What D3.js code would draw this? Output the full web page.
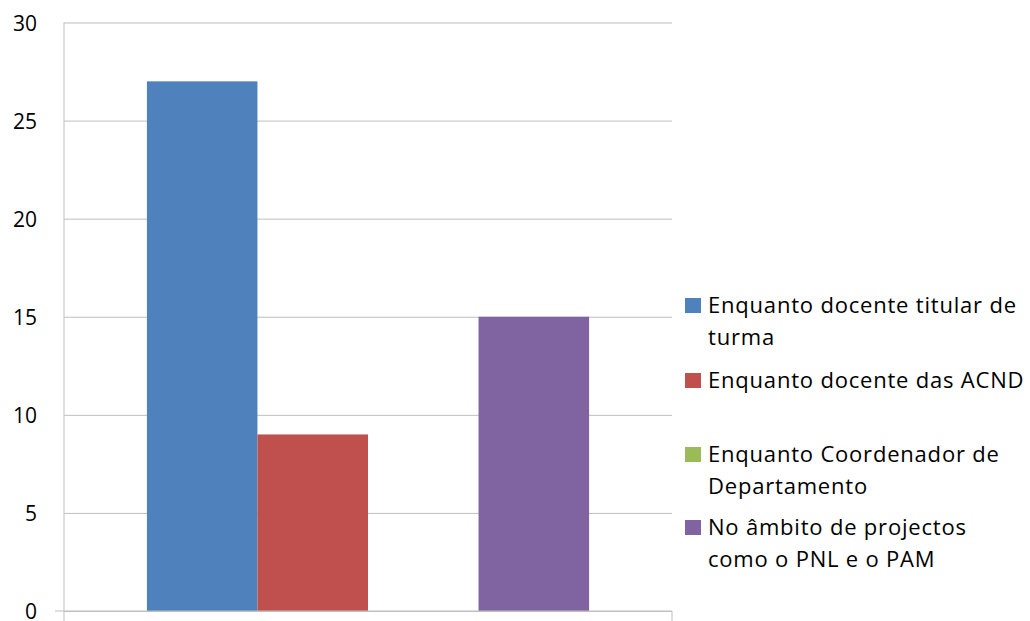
<!DOCTYPE html>
<html>
<head>
<meta charset="utf-8">
<script src="https://cdn.jsdelivr.net/npm/d3@7"></script>
<style>
  body { margin: 0; background: #fff; }
  svg { display: block; font-family: "Open Sans", sans-serif; }
</style>
</head>
<body>
<svg id="chart" width="1030" height="621"></svg>
<script>
var categories = [""];
var seriesNames = [
    ["Enquanto docente titular de", "turma"],
    ["Enquanto docente das ACND"],
    ["Enquanto Coordenador de", "Departamento"],
    ["No âmbito de projectos", "como o PNL e o PAM"]
];
var seriesValues = [27, 9, 0, 15];
var seriesColors = ["#4F81BD", "#C0504D", "#9BBB59", "#8064A2"];
var yTicks = [0, 5, 10, 15, 20, 25, 30];

var svg = d3.select("#chart");
var plotLeft = 64, plotRight = 672, plotTop = 22.5, plotBottom = 611;

var y = d3.scaleLinear().domain([0, 30]).range([plotBottom, plotTop]);
var x0 = d3.scaleBand().domain(categories).range([plotLeft, plotRight]);
// gap width 150% like the office chart
var groupW = x0.bandwidth() * 4 / 5.5;
var x1 = d3.scaleBand().domain(d3.range(seriesValues.length))
    .range([x0("") + (x0.bandwidth() - groupW) / 2, x0("") + (x0.bandwidth() + groupW) / 2]);

// gridlines + y axis with ticks on the left
var yAxis = svg.append("g")
    .attr("transform", "translate(" + plotLeft + ",0)")
    .call(d3.axisLeft(y).tickValues(yTicks).tickSize(9).tickPadding(18));
yAxis.select(".domain").remove();
yAxis.selectAll(".tick line").attr("stroke", "#bfbfbf").attr("x2", plotRight - plotLeft);
yAxis.selectAll(".tick text")
    .attr("fill", "#000")
    .attr("font-family", "Open Sans, sans-serif")
    .attr("font-size", "21px")
    .attr("dy", "0.36em");

// bars
svg.append("g").selectAll("rect")
    .data(seriesValues)
    .enter().append("rect")
    .attr("x", function(d, i) { return x1(i); })
    .attr("width", x1.bandwidth())
    .attr("y", function(d) { return y(d); })
    .attr("height", function(d) { return y(0) - y(d); })
    .attr("fill", function(d, i) { return seriesColors[i]; });

// vertical axis line and category ticks
svg.append("line")
    .attr("x1", plotLeft).attr("x2", plotLeft)
    .attr("y1", plotTop).attr("y2", 621)
    .attr("stroke", "#bfbfbf");
svg.append("line")
    .attr("x1", plotLeft - 9).attr("x2", plotRight)
    .attr("y1", plotBottom).attr("y2", plotBottom)
    .attr("stroke", "#bfbfbf");
svg.append("line")
    .attr("x1", plotRight).attr("x2", plotRight)
    .attr("y1", plotBottom).attr("y2", 621)
    .attr("stroke", "#bfbfbf");

// legend
var legendTops = [313, 388, 462, 535];
var legend = svg.append("g").selectAll("g")
    .data(seriesNames)
    .enter().append("g")
    .attr("transform", function(d, i) { return "translate(685," + legendTops[i] + ")"; });

legend.append("rect")
    .attr("x", 0).attr("y", -15)
    .attr("width", 16).attr("height", 15)
    .attr("fill", function(d, i) { return seriesColors[i]; });

legend.append("text")
    .attr("x", 23)
    .style("font-size", "22px")
    .style("letter-spacing", "0.8px")
    .selectAll("tspan")
    .data(function(d) { return d; })
    .enter().append("tspan")
    .attr("x", 23)
    .attr("y", function(d, j) { return j * 32; })
    .text(function(d) { return d; });
</script>
</body>
</html>
